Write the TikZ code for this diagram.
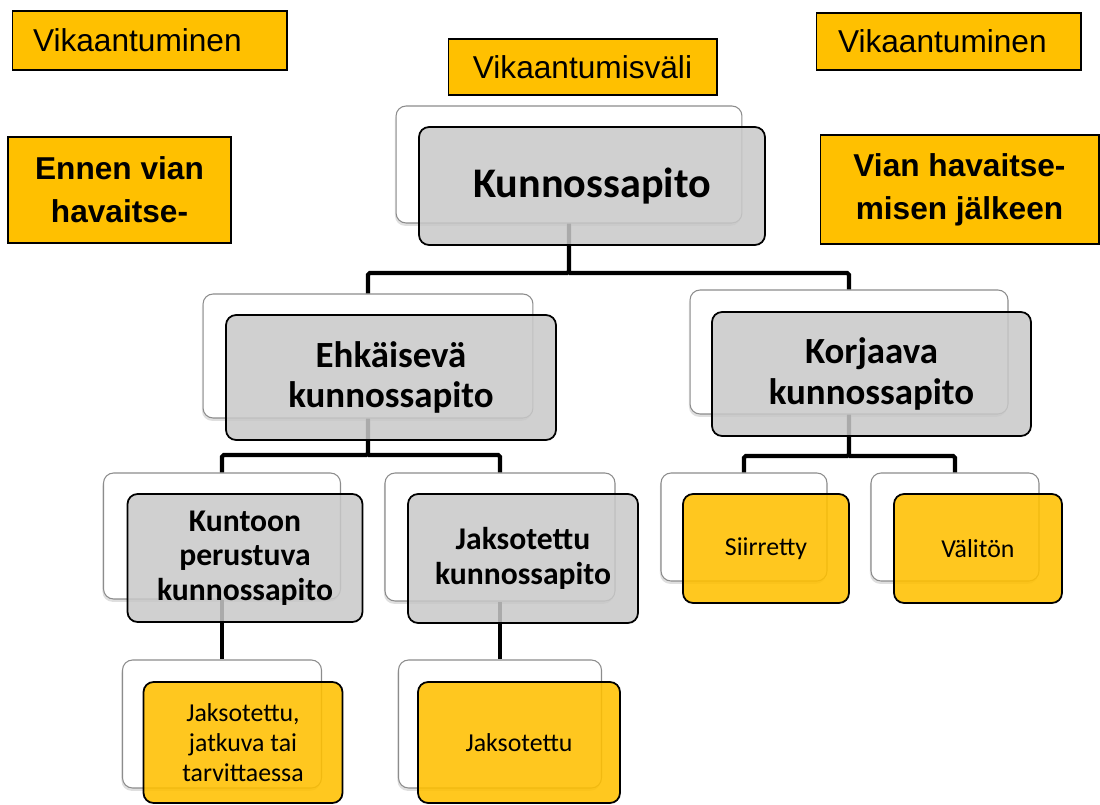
\documentclass[tikz,border=0pt]{standalone}
\usepackage{fontspec}
\newfontfamily\calibri{Carlito}
\newfontfamily\arial{Liberation Sans}
\usetikzlibrary{shadows}
\definecolor{gold}{HTML}{FFC000}
\definecolor{boxgray}{RGB}{200,200,200}
\begin{document}
\begin{tikzpicture}[x=0.02cm,y=-0.02cm,
    back/.style={draw=black!45, line width=0.6pt, fill=white, rounded corners=0.2cm,
      drop shadow={shadow xshift=-0.6pt, shadow yshift=-1.6pt, opacity=0.25}},
    upper/.style={draw=black, line width=1pt, fill=boxgray, fill opacity=0.85, text opacity=1,
      rounded corners=0.2cm, align=center, inner sep=1pt},
    leaf/.style={upper, fill=gold, fill opacity=0.88},
    tag/.style={draw=black, line width=0.6pt, fill=gold, inner sep=0pt},
    conn/.style={line width=2.3pt, rounded corners=1pt}]
      \useasboundingbox (0,0) rectangle (1100,805);
      \node[tag, minimum width=5.5cm, minimum height=1.18cm, text width=4.66cm, inner xsep=0.42cm, align=left,
        font=\arial\fontsize{18}{22}\selectfont] (fail1) at (149.5,40.5) {Vikaantuminen};
      \node[tag, minimum width=5.38cm, minimum height=1.12cm,
        font=\arial\fontsize{18}{22}\selectfont] (gap) at (582.5,67) {Vikaantumisväli};
      \node[tag, minimum width=5.3cm, minimum height=1.14cm, text width=4.42cm, inner xsep=0.44cm, align=left,
        font=\arial\fontsize{18}{22}\selectfont] (fail2) at (948.5,41.5) {Vikaantuminen};
      \node[tag, minimum width=4.46cm, minimum height=2.12cm, align=center,
        font=\arial\bfseries\fontsize{18}{24.5}\selectfont] (before) at (119.5,190) {Ennen vian\\havaitse-};
      \node[tag, minimum width=5.58cm, minimum height=2.18cm, align=center,
        font=\arial\bfseries\fontsize{18}{24.5}\selectfont] (after) at (959.5,189.5) {Vian havaitse-\\misen jälkeen};

      \node[back, minimum width=6.92cm, minimum height=2.34cm] (kpb) at (569,164.5) {};
      \node[back, minimum width=6.6cm, minimum height=2.48cm] (ehkb) at (368,356) {};
      \node[back, minimum width=6.36cm, minimum height=2.48cm] (korb) at (849,352) {};
      \node[back, minimum width=4.74cm, minimum height=2.52cm] (kunb) at (222,536) {};
      \node[back, minimum width=4.6cm, minimum height=2.56cm] (jakb) at (500,537) {};
      \node[back, minimum width=3.32cm, minimum height=2.16cm] (siib) at (744,527) {};
      \node[back, minimum width=3.36cm, minimum height=2.16cm] (valb) at (955,527) {};
      \node[back, minimum width=3.98cm, minimum height=2.56cm] (jatb) at (222,724) {};
      \node[back, minimum width=4.06cm, minimum height=2.56cm] (jak2b) at (500,724) {};

      \coordinate (j1) at (569,273);
      \coordinate (j2) at (368,455);
      \coordinate (j3) at (849,456);
      \begin{scope}[conn]
        \draw (kpb.south) -- (j1) -| (ehkb.north);
        \draw (j1) -| (korb.north);
        \draw (ehkb.south) -- (j2) -| (kunb.north);
        \draw (j2) -| (jakb.north);
        \draw (korb.south) -- (j3) -| (siib.north);
        \draw (j3) -| (valb.north);
        \draw (kunb.south) to (jatb.north);
        \draw (jakb.south) to (jak2b.north);
      \end{scope}

      \node[upper, minimum width=6.92cm, minimum height=2.36cm,
        font=\calibri\bfseries\fontsize{24}{26}\selectfont] (kp) at (592,186) {Kunnossapito};
      \node[upper, minimum width=6.6cm, minimum height=2.5cm,
        font=\calibri\bfseries\fontsize{21}{23.1}\selectfont] (ehk) at (391,377.5) {Ehkäisevä\\kunnossapito};
      \node[upper, minimum width=6.38cm, minimum height=2.48cm,
        font=\calibri\bfseries\fontsize{21}{23.1}\selectfont] (kor) at (871.5,374) {Korjaava\\kunnossapito};
      \node[upper, minimum width=4.7cm, minimum height=2.56cm,
        font=\calibri\bfseries\fontsize{18}{19.6}\selectfont] (kun) at (245,558) {Kuntoon\\perustuva\\kunnossapito};
      \node[upper, minimum width=4.6cm, minimum height=2.58cm,
        font=\calibri\bfseries\fontsize{18}{19.6}\selectfont] (jak) at (523,558.5) {Jaksotettu\\kunnossapito};
      \node[leaf, minimum width=3.32cm, minimum height=2.18cm,
        font=\calibri\fontsize{14.7}{17}\selectfont] (sii) at (766,548.5) {Siirretty};
      \node[leaf, minimum width=3.36cm, minimum height=2.18cm,
        font=\calibri\fontsize{14.7}{17}\selectfont] (val) at (978,548.5) {Välitön};
      \node[leaf, minimum width=3.98cm, minimum height=2.42cm,
        font=\calibri\fontsize{14.7}{17}\selectfont] (jat) at (243,742.5) {Jaksotettu,\\jatkuva tai\\tarvittaessa};
      \node[leaf, minimum width=4.04cm, minimum height=2.42cm,
        font=\calibri\fontsize{14.7}{17}\selectfont] (jak2) at (519,742.5) {Jaksotettu};
    \end{tikzpicture}
\end{document}
